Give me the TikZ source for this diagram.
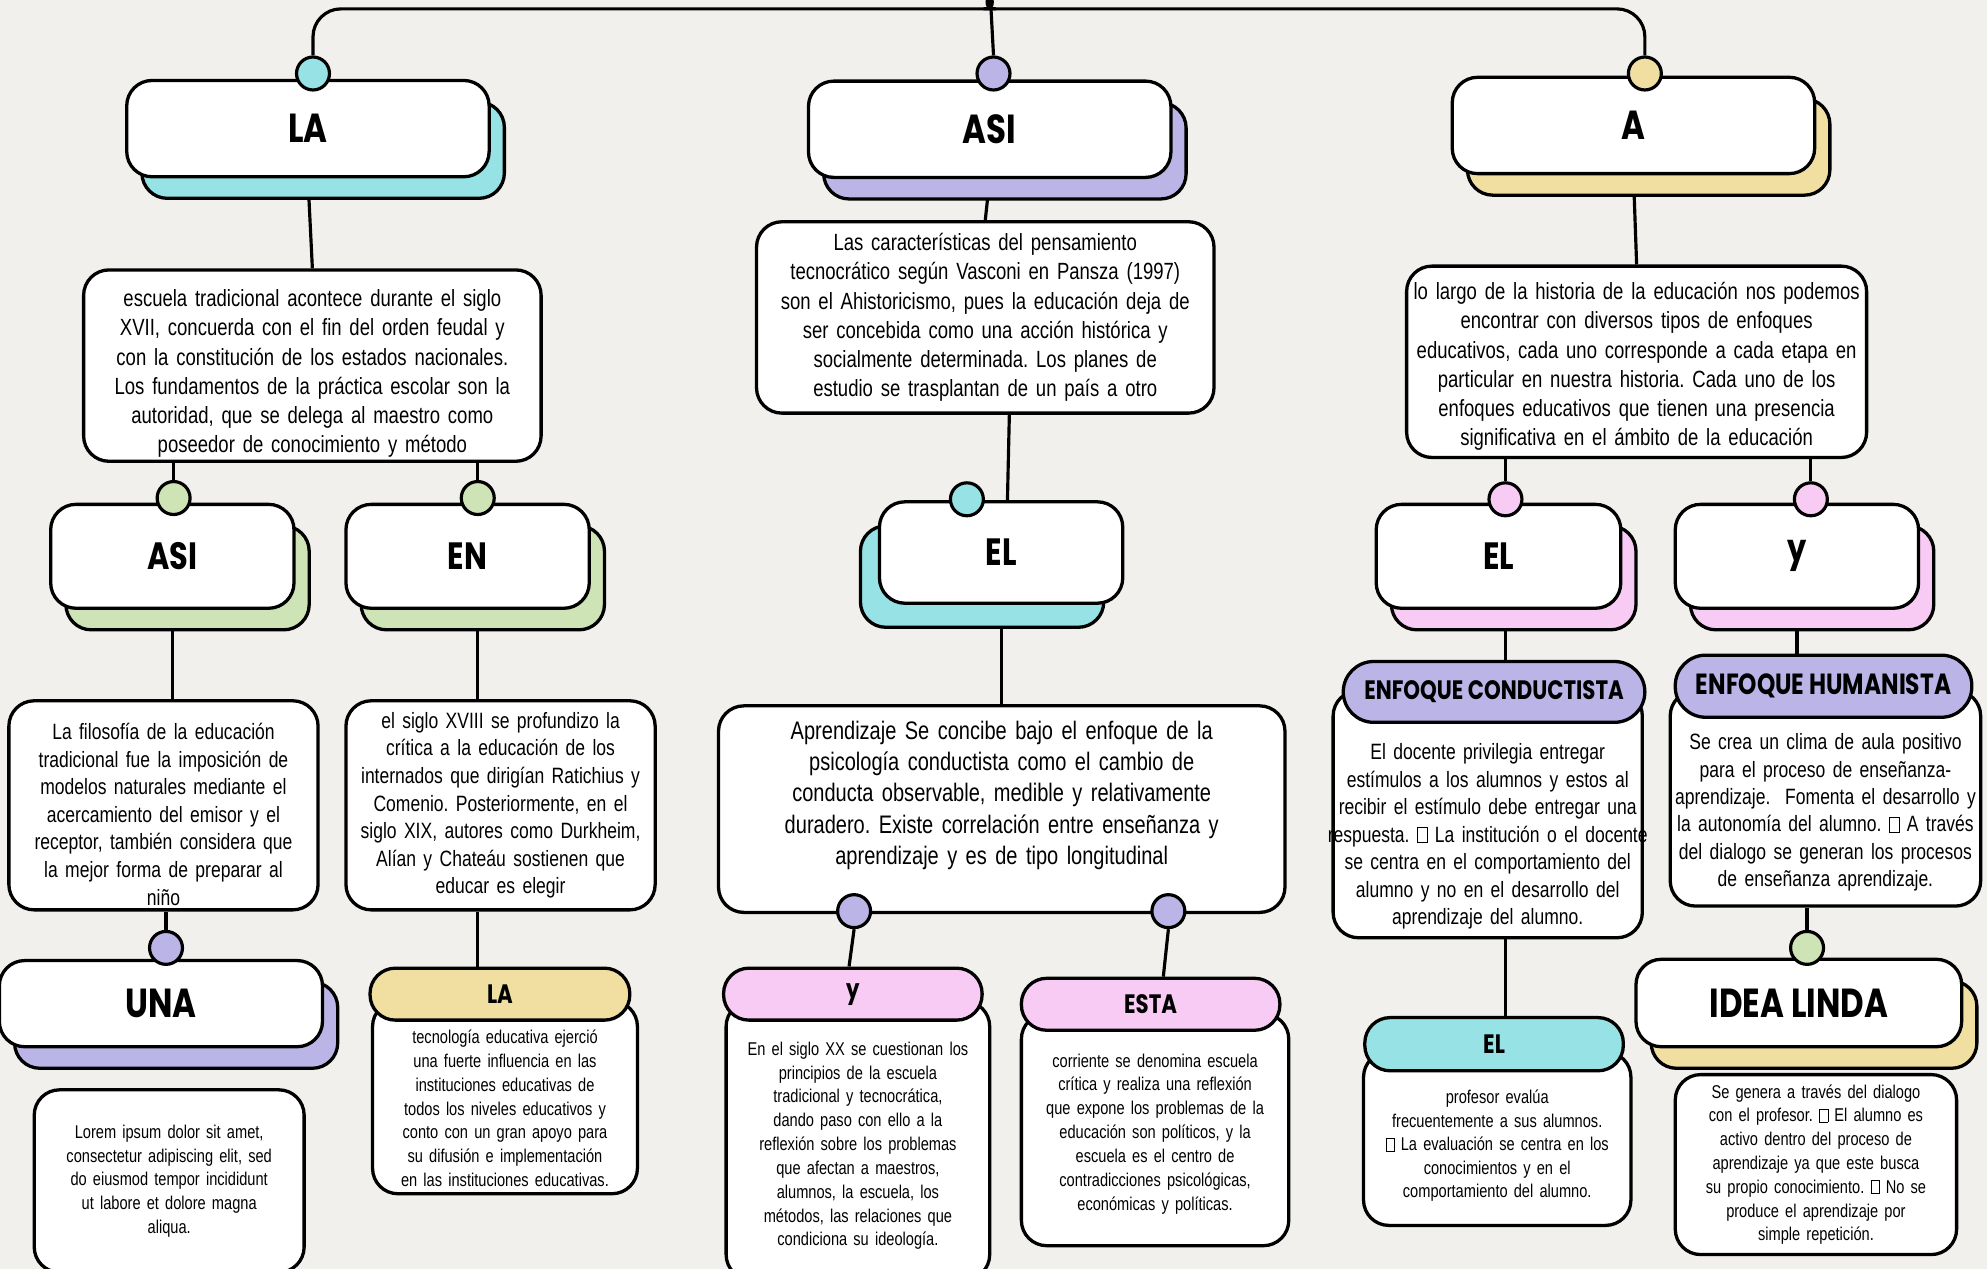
\documentclass[tikz,border=0pt]{standalone}
\usepackage{fontspec}
\usepackage{tikz}
\usetikzlibrary{shadows,backgrounds}
\newfontfamily\bodyfont{Liberation Sans}[FakeStretch=0.79, WordSpace=0.8]
\newfontfamily\headfont{Poppins}[FakeStretch=0.8]
\definecolor{paper}{RGB}{242,240,236}
\definecolor{aqua}{RGB}{150,226,228}
\definecolor{lilac}{RGB}{187,181,231}
\definecolor{sand}{RGB}{241,223,161}
\definecolor{sage}{RGB}{206,228,182}
\definecolor{blush}{RGB}{248,203,244}
\newcommand{\tofu}{{\setlength{\fboxsep}{0pt}\setlength{\fboxrule}{0.5pt}\fbox{\rule{0pt}{0.66em}\hspace{0.42em}}}}
\frenchspacing
\tikzset{x=1pt, y=-1pt,
	link/.style={line width=2.5pt},
	knob/.style={circle, draw, line width=2.5pt, fill=#1, minimum size=26pt, inner sep=0pt},
	headbox/.style={draw, line width=2.6pt, fill=white, rounded corners=20pt, inner sep=0pt},
	backdrop/.style={copy shadow={fill=#1, shadow xshift=12pt, shadow yshift=-17pt}},
	backdropl/.style={copy shadow={fill=#1, shadow xshift=-15pt, shadow yshift=-19pt}},
	pill/.style={draw, line width=2.6pt, fill=#1, rounded corners=20pt, inner sep=0pt},
	card/.style={draw, line width=2.6pt, fill=white, rounded corners=20pt, align=center, inner xsep=4pt, inner ysep=0pt},
	hfont/.style={font=\headfont\bfseries\fontsize{#1}{#1}\selectfont},
	bfont/.style 2 args={font=\bodyfont\fontsize{#1}{#2}\selectfont}
}

\begin{document}
\begin{tikzpicture}
	\useasboundingbox (0,0) rectangle (1568,1001);
	\begin{scope}[on background layer]
		\fill[paper] (0,0) rectangle (1568,1001);
	\end{scope}
	
	% Top row
	\node[headbox, backdrop=aqua, minimum width=286pt, minimum height=76pt, hfont=32] (la) at (243,101.5) {LA};
	\node[headbox, backdrop=lilac, minimum width=286pt, minimum height=76pt, hfont=32] (asi) at (781,102) {ASI};
	\node[headbox, backdrop=sand, minimum width=286pt, minimum height=76pt, hfont=32] (a) at (1289,99) {A};
	
	\node[card, text width=353pt, minimum height=151pt, bfont={18.5}{23}] (labody) at (246.5,288.5) {\rule{0pt}{26pt}escuela tradicional acontece durante el siglo\\XVII, concuerda con el fin del orden feudal y\\con la constitución de los estados nacionales.\\Los fundamentos de la práctica escolar son la\\autoridad, que se delega al maestro como\\poseedor de conocimiento y método};
	\node[card, text width=353pt, minimum height=151pt, bfont={18.5}{23}] (asibody) at (777.5,250.5) {Las características del pensamiento\\tecnocrático según Vasconi en Pansza (1997)\\son el Ahistoricismo, pues la educación deja de\\ser concebida como una acción histórica y\\socialmente determinada. Los planes de\\estudio se trasplantan de un país a otro};
	\node[card, text width=355pt, minimum height=151pt, bfont={18.5}{23}] (abody) at (1291.5,285.5) {\rule{0pt}{21pt}\makebox[340pt]{lo largo de la historia de la educación nos podemos}\\encontrar con diversos tipos de enfoques\\educativos, cada uno corresponde a cada etapa en\\particular en nuestra historia. Cada uno de los\\enfoques educativos que tienen una presencia\\significativa en el ámbito de la educación};
	
	% Left branch
	\node[headbox, backdrop=sage, minimum width=192pt, minimum height=82pt, hfont=30] (asi2) at (136,439) {ASI};
	\node[headbox, backdrop=sage, minimum width=192pt, minimum height=82pt, hfont=30] (en2) at (369,439) {EN};
	\node[card, text width=236pt, minimum height=165pt, bfont={17.5}{21.8}] (filo) at (129,635.5) {\rule{0pt}{27pt}La filosofía de la educación\\tradicional fue la imposición de\\modelos naturales mediante el\\acercamiento del emisor y el\\receptor, también considera que\\la mejor forma de preparar al\\niño};
	\node[card, text width=236pt, minimum height=165pt, bfont={17.5}{21.8}] (siglo) at (395,635.5) {el siglo XVIII se profundizo la\\crítica a la educación de los\\internados que dirigían Ratichius y\\Comenio. Posteriormente, en el\\siglo XIX, autores como Durkheim,\\Alían y Chateáu sostienen que\\educar es elegir};
	\node[headbox, backdrop=lilac, minimum width=255pt, minimum height=68pt, hfont=32] (una) at (127,792) {UNA};
	\node[card, text width=205pt, minimum height=144pt, bfont={14.6}{18.8}] (lorem) at (133.5,932) {Lorem ipsum dolor sit amet,\\consectetur adipiscing elit, sed\\do eiusmod tempor incididunt\\ut labore et dolore magna\\aliqua.};
	\node[card, text width=201pt, minimum height=152pt, bfont={14.6}{18.8}] (techbody) at (398.5,866) {\rule{0pt}{28pt}tecnología educativa ejerció\\una fuerte influencia en las\\instituciones educativas de\\todos los niveles educativos y\\conto con un gran apoyo para\\su difusión e implementación\\en las instituciones educativas.};
	\node[pill=sand, minimum width=205pt, minimum height=41pt, hfont=21] (lahead) at (394.5,784.5) {LA};
	
	% Middle branch
	\node[headbox, backdropl=aqua, minimum width=192pt, minimum height=80pt, hfont=30] (el2) at (790,436) {EL};
	\node[card, text width=439pt, minimum height=163pt, bfont={20}{24.6}] (apren) at (790.5,638.5) {Aprendizaje Se concibe bajo el enfoque de la\\psicología conductista como el cambio de\\conducta observable, medible y relativamente\\duradero. Existe correlación entre enseñanza y\\aprendizaje y es de tipo longitudinal\rule[-26pt]{0pt}{26pt}};
	\node[card, text width=200pt, minimum height=220pt, bfont={14.6}{18.8}] (ybody) at (677,900) {\rule{0pt}{19pt}En el siglo XX se cuestionan los\\principios de la escuela\\tradicional y tecnocrática,\\dando paso con ello a la\\reflexión sobre los problemas\\que afectan a maestros,\\alumnos, la escuela, los\\métodos, las relaciones que\\condiciona su ideología.};
	\node[pill=blush, minimum width=204pt, minimum height=41pt, hfont=21] (yhead) at (673,784.5) {y};
	\node[card, text width=203pt, minimum height=183pt, bfont={14.6}{18.8}] (estabody) at (911.5,891.5) {\rule{0pt}{17pt}corriente se denomina escuela\\crítica y realiza una reflexión\\que expone los problemas de la\\educación son políticos, y la\\escuela es el centro de\\contradicciones psicológicas,\\económicas y políticas.};
	\node[pill=blush, minimum width=204pt, minimum height=41pt, hfont=21] (estahead) at (908,792.5) {ESTA};
	
	% Right branch
	\node[headbox, backdrop=blush, minimum width=193pt, minimum height=82pt, hfont=30] (el3) at (1182.5,439) {EL};
	\node[headbox, backdrop=blush, minimum width=192pt, minimum height=82pt, hfont=30] (y3) at (1418,439) {y};
	\node[card, text width=236pt, minimum height=195pt, bfont={17.5}{21.7}] (condbody) at (1174,642.5) {\rule{0pt}{48pt}El docente privilegia entregar\\estímulos a los alumnos y estos al\\\makebox[230pt]{recibir el estímulo debe entregar una}\\\makebox[230pt]{respuesta. \tofu{} La institución o el docente}\\se centra en el comportamiento del\\alumno y no en el desarrollo del\\aprendizaje del alumno.};
	\node[pill=lilac, minimum width=238pt, minimum height=48pt, rounded corners=24pt, hfont=21] (condhead) at (1179,546) {ENFOQUE CONDUCTISTA};
	\node[card, text width=237pt, minimum height=170pt, bfont={17.5}{21.6}] (humbody) at (1440.5,630) {\rule{0pt}{35pt}Se crea un clima de aula positivo\\para el proceso de enseñanza-\\\makebox[230pt]{aprendizaje.\ \ Fomenta el desarrollo y}\\la autonomía del alumno. \tofu{} A través\\del dialogo se generan los procesos\\de enseñanza aprendizaje.};
	\node[pill=lilac, minimum width=234pt, minimum height=49pt, rounded corners=24pt, hfont=23] (humhead) at (1439,541.5) {ENFOQUE HUMANISTA};
	\node[card, text width=203pt, minimum height=137pt, bfont={14.6}{18.6}] (elcbody) at (1181.5,898.5) {\rule{0pt}{22pt}profesor evalúa\\frecuentemente a sus alumnos.\\\tofu{} La evaluación se centra en los\\conocimientos y en el\\comportamiento del alumno.};
	\node[pill=aqua, minimum width=204pt, minimum height=42pt, hfont=21] (elchead) at (1179,824) {EL};
	\node[headbox, backdrop=sand, minimum width=257pt, minimum height=69pt, hfont=32] (idea) at (1419.5,791.5) {IDEA LINDA};
	\node[card, text width=214pt, minimum height=142pt, bfont={14.6}{18.8}] (ideabody) at (1433,919) {Se genera a través del dialogo\\con el profesor. \tofu{} El alumno es\\activo dentro del proceso de\\aprendizaje ya que este busca\\su propio conocimiento. \tofu{} No se\\produce el aprendizaje por\\simple repetición.};
	
	% Knobs
	\node[knob=aqua] (kla) at (247,58) {};
	\node[knob=lilac] (kasi) at (784,58) {};
	\node[knob=sand] (ka) at (1298,58) {};
	\node[knob=sage] (kasi2) at (137,393) {};
	\node[knob=sage] (ken2) at (377,393) {};
	\node[knob=lilac] (kuna) at (131,748) {};
	\node[knob=aqua] (kel2) at (763,394) {};
	\node[knob=lilac] (kya) at (674,719) {};
	\node[knob=lilac] (kesta) at (922,719) {};
	\node[knob=blush] (kel3) at (1188,394) {};
	\node[knob=blush] (ky3) at (1429,394) {};
	\node[knob=sage] (kidea) at (1426,748) {};
	
	% Connectors
	\coordinate (root) at (781,-12);
	\begin{scope}[on background layer]
		\draw[link, rounded corners=22pt] (kla.north) |- (764,7) to[out=0,in=-90] (root);
		\draw[link, rounded corners=22pt] (ka.north) |- (798,7) to[out=180,in=-90] (root);
		\draw[link] (root) -- (kasi.north);
		\draw[link] (la.south) -- (labody.north);
		\draw[link] (asi.south) -- (asibody.north);
		\draw[link] (a.south) -- (abody.north);
		\draw[link] (kasi2.north) -- (kasi2.north |- labody.south);
		\draw[link] (ken2.north) -- (ken2.north |- labody.south);
		\draw[link] (asi2.south) -- (asi2.south |- filo.north);
		\draw[link] (ken2 |- en2.south) -- (ken2 |- siglo.north);
		\draw[link] (kuna.north) -- (kuna.north |- filo.south);
		\draw[link] (ken2 |- siglo.south) -- (ken2 |- lahead.north);
		\draw[link] ([xshift=19pt]asibody.south) -- ([xshift=5pt]el2.north);
		\draw[link] (el2.south) -- (el2.south |- apren.north);
		\draw[link] (kya.south) -- ([xshift=-3pt]yhead.north);
		\draw[link] (kesta.south) -- ([xshift=10pt]estahead.north);
		\draw[link] (kel3.north) -- (kel3.north |- abody.south);
		\draw[link] (ky3.north) -- (ky3.north |- abody.south);
		\draw[link] (kel3 |- el3.south) -- (kel3 |- condhead.north);
		\draw[link] (y3.south) -- (y3.south |- humhead.north);
		\draw[link] (kel3 |- condbody.south) -- (kel3 |- elchead.north);
		\draw[link] (kidea.north) -- (kidea.north |- humbody.south);
	\end{scope}
\end{tikzpicture}
\end{document}
